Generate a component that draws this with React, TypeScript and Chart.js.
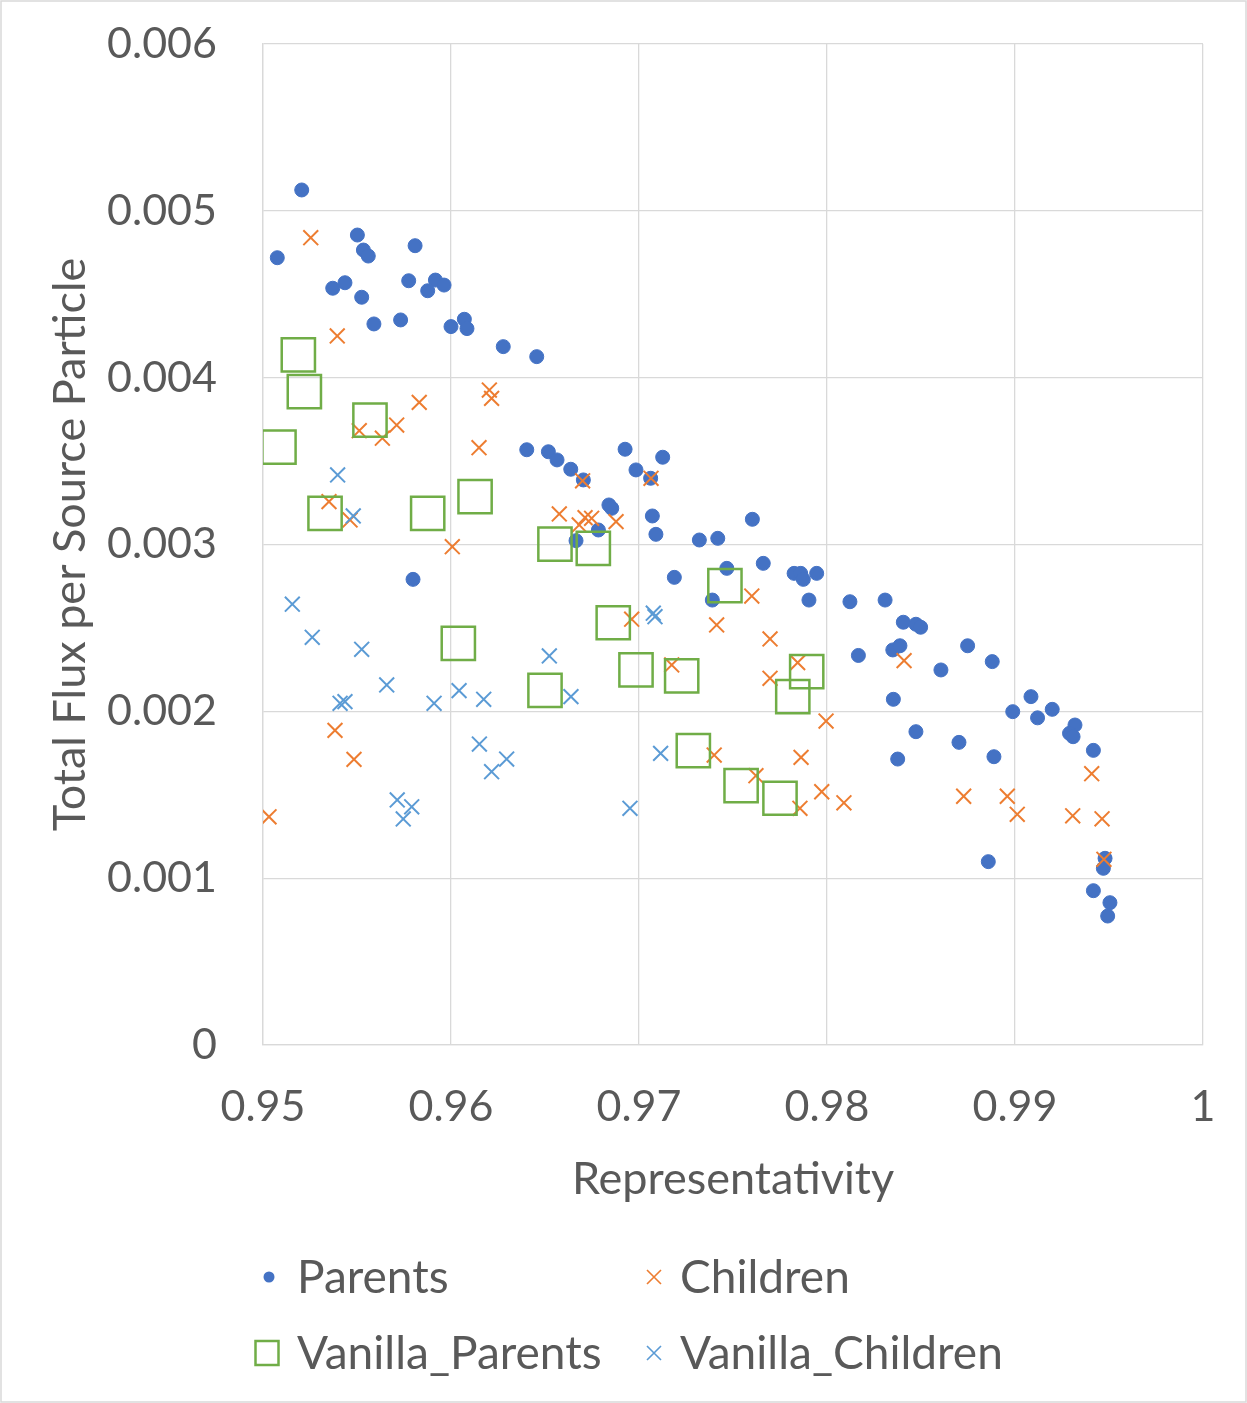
import React, { useEffect, useRef } from 'react';
import { Chart, registerables } from 'chart.js';

Chart.register(...registerables);

// ---- data (x = Representativity, y = Total Flux per Source Particle) ----
const parents: [number, number][] = [
  [0.95076, 0.004719], [0.95206, 0.005125], [0.95502, 0.004855], [0.95534, 0.004765],
  [0.9556, 0.004729], [0.95809, 0.004791], [0.95371, 0.004536], [0.95436, 0.004569],
  [0.95525, 0.004482], [0.95775, 0.004581], [0.95917, 0.004585], [0.95876, 0.004521],
  [0.95963, 0.004555], [0.9559, 0.004322], [0.95732, 0.004346], [0.96, 0.004306],
  [0.96071, 0.00435], [0.96085, 0.004294], [0.96278, 0.004186], [0.96456, 0.004126],
  [0.96403, 0.003568], [0.96518, 0.003556], [0.96564, 0.003507], [0.96637, 0.003451],
  [0.96704, 0.003387], [0.96926, 0.003571], [0.96984, 0.003447], [0.97062, 0.003397],
  [0.97126, 0.003523], [0.9684, 0.003237], [0.96855, 0.003217], [0.96784, 0.003087],
  [0.96665, 0.003023], [0.97071, 0.003171], [0.9709, 0.003061], [0.97321, 0.003027],
  [0.97419, 0.003037], [0.97603, 0.003151], [0.97188, 0.002803], [0.97467, 0.002857],
  [0.9739, 0.002667], [0.97661, 0.002887], [0.97825, 0.002827], [0.9786, 0.002827],
  [0.97874, 0.002791], [0.97945, 0.002827], [0.97904, 0.002667], [0.98122, 0.002657],
  [0.98309, 0.002667], [0.98167, 0.002335], [0.98406, 0.002534], [0.98473, 0.002522],
  [0.98498, 0.002504], [0.9835, 0.002368], [0.98388, 0.002393], [0.98748, 0.002393],
  [0.98606, 0.002248], [0.98879, 0.002298], [0.98353, 0.002072], [0.98473, 0.001878],
  [0.98702, 0.001814], [0.98376, 0.001714], [0.98888, 0.001728], [0.98988, 0.001998],
  [0.99085, 0.002088], [0.9912, 0.001961], [0.99198, 0.002012], [0.99319, 0.001918],
  [0.9929, 0.001868], [0.99309, 0.001848], [0.99417, 0.001766], [0.98858, 0.001099],
  [0.99479, 0.001119], [0.9947, 0.001059], [0.99417, 0.000925], [0.99505, 0.000853],
  [0.99493, 0.000773], [0.95798, 0.002791],
];

const children: [number, number][] = [
  [0.95254, 0.004839], [0.95395, 0.00425], [0.95831, 0.003852], [0.96204, 0.003926],
  [0.96216, 0.003876], [0.95512, 0.003682], [0.95635, 0.003637], [0.95711, 0.003716],
  [0.96149, 0.00358], [0.95351, 0.003257], [0.95463, 0.003147], [0.96007, 0.002987],
  [0.96576, 0.003183], [0.95383, 0.001886], [0.95484, 0.001712], [0.95032, 0.001368],
  [0.967, 0.003382], [0.97064, 0.003397], [0.96682, 0.003117], [0.96713, 0.003161],
  [0.96748, 0.003157], [0.96878, 0.003137], [0.96961, 0.002552], [0.976, 0.002691],
  [0.97413, 0.002518], [0.97697, 0.002434], [0.97174, 0.002278], [0.97697, 0.002198],
  [0.97844, 0.002292], [0.97995, 0.001942], [0.974, 0.001738], [0.97862, 0.001724],
  [0.97622, 0.001614], [0.97972, 0.001518], [0.9809, 0.001452], [0.97856, 0.001419],
  [0.9841, 0.002304], [0.98727, 0.001491], [0.98959, 0.001491], [0.99012, 0.001383],
  [0.99408, 0.001626], [0.99307, 0.001374], [0.99463, 0.001356], [0.99473, 0.001113],
];

const vanillaParents: [number, number][] = [
  [0.95188, 0.004136], [0.9522, 0.003916], [0.95569, 0.003746], [0.95085, 0.003583],
  [0.9533, 0.003187], [0.95876, 0.003187], [0.96128, 0.003287], [0.96553, 0.003002],
  [0.96757, 0.002977], [0.96039, 0.002408], [0.965, 0.002125], [0.97457, 0.002753],
  [0.96863, 0.002531], [0.96984, 0.002248], [0.97227, 0.002212], [0.97892, 0.002238],
  [0.97818, 0.002088], [0.97289, 0.001764], [0.97543, 0.001554], [0.9775, 0.001479],
];

const vanillaChildren: [number, number][] = [
  [0.95397, 0.003417], [0.9548, 0.003171], [0.95156, 0.002642], [0.95262, 0.002444],
  [0.95525, 0.002372], [0.95658, 0.002158], [0.9541, 0.002048], [0.95436, 0.002058],
  [0.9591, 0.002048], [0.96043, 0.002124], [0.96174, 0.002072], [0.96523, 0.002332],
  [0.96638, 0.002088], [0.96151, 0.001804], [0.96296, 0.001714], [0.96216, 0.001638],
  [0.95714, 0.001469], [0.95791, 0.001428], [0.95746, 0.001355], [0.97076, 0.002588],
  [0.97085, 0.002567], [0.97115, 0.001748], [0.96952, 0.001419],
];

const seriesLabels = ['Parents', 'Children', 'Vanilla_Parents', 'Vanilla_Children'];
const xTitle = 'Representativity';
const yTitle = 'Total Flux per Source Particle';

// ---- styles ----
const BLUE = '#4472C4';
const ORANGE = '#ED7D31';
const GREEN = '#70AD47';
const LBLUE = '#5B9BD5';
const TEXT = '#595959';
const GRID = '#d9d9d9';
const FONT = 'Lato, "Noto Sans", sans-serif';
const TITLE_SIZE = 45;
const LEGEND_SIZE = 46;
const TICK_SIZE = 43;

const toPts = (a: [number, number][]) => a.map(([x, y]) => ({ x, y }));

const legendPlugin = {
  id: 'customLegend',
  afterDraw(chart: any) {
    const ctx: CanvasRenderingContext2D = chart.ctx;
    ctx.save();
    // outer chart border
    ctx.strokeStyle = GRID;
    ctx.lineWidth = 1.5;
    ctx.strokeRect(1, 1, chart.width - 2, chart.height - 2);

    const rows = [1277, 1353];
    const markX = [269, 654];
    const textX = [297, 680];
    const items = [
      { kind: 'circle', color: BLUE, col: 0, row: 0 },
      { kind: 'cross', color: ORANGE, col: 1, row: 0 },
      { kind: 'square', color: GREEN, col: 0, row: 1 },
      { kind: 'cross', color: LBLUE, col: 1, row: 1 },
    ];
    ctx.font = `${LEGEND_SIZE}px ${FONT}`;
    ctx.textBaseline = 'middle';
    ctx.textAlign = 'left';
    items.forEach((it, i) => {
      const x = it.kind === 'square' ? markX[it.col] - 2 : markX[it.col];
      const y = rows[it.row];
      if (it.kind === 'circle') {
        ctx.fillStyle = it.color;
        ctx.beginPath();
        ctx.arc(x, y, 5.5, 0, Math.PI * 2);
        ctx.fill();
      } else if (it.kind === 'cross') {
        ctx.strokeStyle = it.color;
        ctx.lineWidth = 1.6;
        ctx.beginPath();
        ctx.moveTo(x - 7, y - 7);
        ctx.lineTo(x + 7, y + 7);
        ctx.moveTo(x + 7, y - 7);
        ctx.lineTo(x - 7, y + 7);
        ctx.stroke();
      } else {
        ctx.strokeStyle = it.color;
        ctx.lineWidth = 2.5;
        ctx.strokeRect(x - 11.5, y - 12, 23, 24);
      }
      ctx.fillStyle = TEXT;
      ctx.fillText(seriesLabels[i], textX[it.col], y + 1);
    });
    ctx.restore();
  },
};

export default function App() {
  const ref = useRef<HTMLCanvasElement>(null);
  useEffect(() => {
    const chart = new Chart(ref.current as HTMLCanvasElement, {
      type: 'scatter',
      data: {
        datasets: [
          {
            label: seriesLabels[0], data: toPts(parents), pointStyle: 'circle',
            pointRadius: 7, pointBackgroundColor: BLUE, pointBorderColor: BLUE, pointBorderWidth: 1, order: 4,
          },
          {
            label: seriesLabels[1], data: toPts(children), pointStyle: 'crossRot',
            pointRadius: 10.5, pointBackgroundColor: ORANGE, pointBorderColor: ORANGE, pointBorderWidth: 2, order: 3,
          },
          {
            label: seriesLabels[2], data: toPts(vanillaParents), pointStyle: 'rect',
            pointRadius: 23.5, pointBackgroundColor: 'rgba(0,0,0,0)', pointBorderColor: GREEN, pointBorderWidth: 2.5, order: 2,
          },
          {
            label: seriesLabels[3], data: toPts(vanillaChildren), pointStyle: 'crossRot',
            pointRadius: 10.5, pointBackgroundColor: LBLUE, pointBorderColor: LBLUE, pointBorderWidth: 2, order: 1,
          },
        ] as any,
      },
      options: {
        animation: false,
        responsive: false,
        events: [],
        layout: { padding: { top: 44, right: 44, left: 0, bottom: 197 } },
        plugins: { legend: { display: false }, tooltip: { enabled: false } },
        scales: {
          x: {
            type: 'linear', min: 0.95, max: 1,
            afterFit: (s: any) => { s.height = 161; },
            ticks: {
              stepSize: 0.01, padding: 0, color: TEXT,
              font: { family: FONT, size: TICK_SIZE },
              callback: (v: any) => String(Math.round(Number(v) * 100) / 100),
            },
            grid: { color: GRID, lineWidth: 1.3, drawTicks: true, tickLength: 36, tickColor: 'rgba(0,0,0,0)' },
            border: { color: GRID, width: 1.3 },
            title: {
              display: true, text: xTitle, color: TEXT,
              font: { family: FONT, size: TITLE_SIZE }, padding: { top: 0, bottom: 0 },
            },
          },
          y: {
            type: 'linear', min: 0, max: 0.006,
            afterFit: (s: any) => { s.width = 263; },
            ticks: {
              stepSize: 0.001, padding: 0, color: TEXT,
              font: { family: FONT, size: TICK_SIZE },
              callback: (v: any) => {
                const n = Number(v);
                return Math.abs(n) < 1e-9 ? '0' : (Math.round(n * 1000) / 1000).toFixed(3);
              },
            },
            grid: { color: GRID, lineWidth: 1.3, drawTicks: true, tickLength: 46, tickColor: 'rgba(0,0,0,0)' },
            border: { color: GRID, width: 1.3 },
            title: {
              display: true, text: yTitle, color: TEXT,
              font: { family: FONT, size: TITLE_SIZE }, padding: { top: 43, bottom: 0 },
            },
          },
        },
      } as any,
      plugins: [legendPlugin],
    });
    return () => chart.destroy();
  }, []);

  return (
    <div style={{ position: 'absolute', left: 0, top: 0, width: 1247, height: 1403, background: '#fff' }}>
      <canvas ref={ref} width={1247} height={1403} style={{ display: 'block', width: 1247, height: 1403 }} />
    </div>
  );
}
